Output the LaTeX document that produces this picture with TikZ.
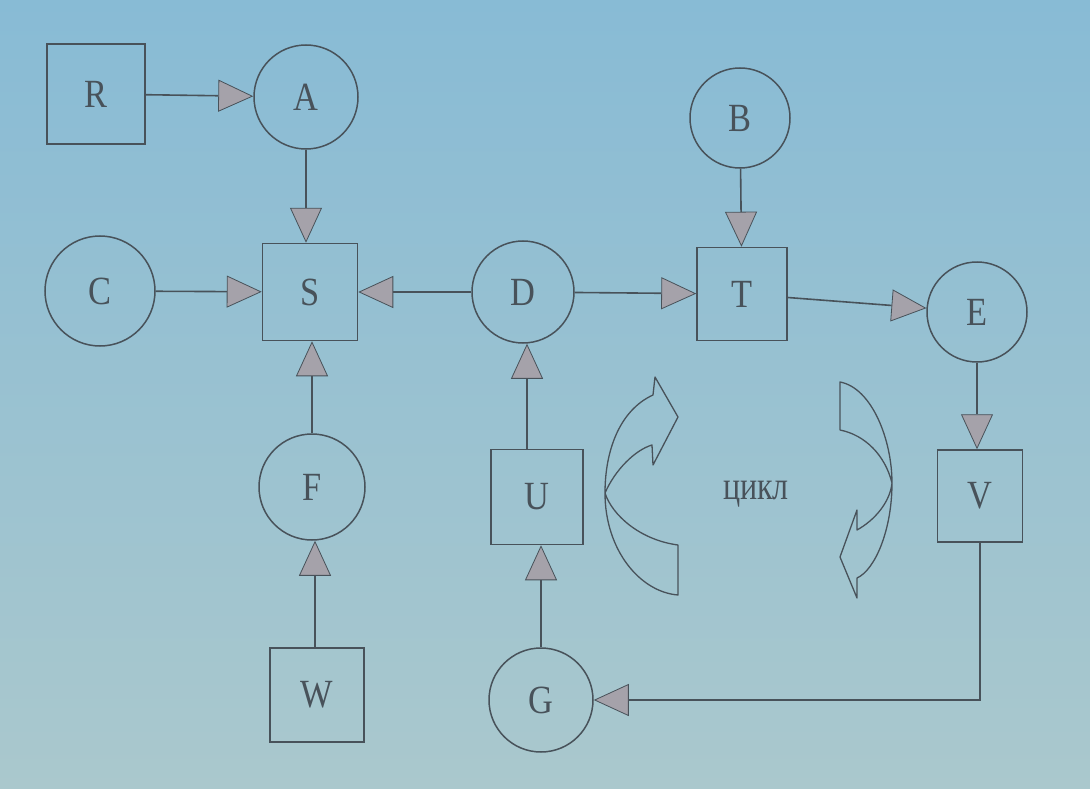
\documentclass[tikz,border=0pt]{standalone}
\usepackage{fontspec}
\setmainfont{Liberation Serif}
\newfontfamily\lbl[FakeStretch=0.86]{Liberation Serif}
\newfontfamily\cyclbl[FakeStretch=0.8]{Liberation Serif}
\usetikzlibrary{arrows.meta}
\definecolor{bgtop}{RGB}{136,187,213}
\definecolor{bgbot}{RGB}{170,200,205}
\definecolor{ink}{RGB}{72,82,90}
\definecolor{headgray}{RGB}{165,162,170}
\begin{document}
\begin{tikzpicture}[x=1pt,y=-1pt,
  lettered/.style={font=\lbl\fontsize{40}{48}\selectfont, text=ink},
  boxnode/.style={lettered, draw=ink, line width=1.5pt, inner sep=0pt},
  circnode/.style={lettered, draw=ink, circle, line width=1.5pt, inner sep=0pt},
  flow/.style={draw=ink, line width=1.6pt,
    -{Triangle[length=35pt,width=32pt,line width=0.8pt,fill=headgray]}},
  loopshape/.style={draw=ink, line width=1.3pt, line join=round}]
\shade[top color=bgtop, bottom color=bgbot] (0,0) rectangle (1090,789);
\useasboundingbox (0,0) rectangle (1090,789);

% nodes
\node[boxnode, minimum width=98pt, minimum height=100pt] (R) at (96,94) {R};
\node[circnode, minimum size=104pt] (A) at (306,97) {A};
\node[circnode, minimum size=100pt] (B) at (740,118) {B};
\node[circnode, minimum size=110pt] (C) at (100,291) {C};
\node[boxnode, minimum width=95pt, minimum height=97pt] (S) at (310,292) {S};
\node[circnode, minimum size=102pt] (D) at (523,292) {D};
\node[boxnode, minimum width=90pt, minimum height=93pt] (T) at (742,294) {T};
\node[circnode, minimum size=100pt] (E) at (977,312) {E};
\node[circnode, minimum size=106pt] (F) at (312,487) {F};
\node[boxnode, minimum width=92pt, minimum height=95pt] (U) at (537,497) {U};
\node[boxnode, minimum width=85pt, minimum height=92pt] (V) at (980,496) {V};
\node[boxnode, minimum width=94pt, minimum height=94pt] (W) at (317,695) {W};
\node[circnode, minimum size=104pt] (G) at (541,700) {G};
\node[text=ink, font=\cyclbl\fontsize{40}{48}\selectfont] (cyc) at (756,494) {цикл};
\coordinate (corner) at (980,700);

% connectors
\draw[flow] (R) -- (A);
\draw[flow] (A.south) -- (A.south |- S.north);
\draw[flow] (C) -- (S);
\draw[flow] (D) -- (S);
\draw[flow] (D) -- (T);
\draw[flow] (B) -- (T);
\draw[flow] (T) -- (E);
\draw[flow] (E.south) -- (E.south |- V.north);
\draw[flow] (F.north) -- (F.north |- S.south);
\draw[flow] ([xshift=-2pt]W.north) -- ([xshift=-2pt]W.north |- F.south);
\draw[flow] ([xshift=-10pt]U.north) -- ([xshift=-10pt]U.north |- D.south);
\draw[flow] (G.north) -- (G.north |- U.south);
\draw[flow] (V.south) -- (corner) -- (G);

% cycle arrows
\draw[loopshape] (653,395) .. controls (620,410) and (605,450) .. (605,493)
  .. controls (605,550) and (640,592) .. (678,595) -- (678,545)
  .. controls (640,540) and (612,515) .. (605,493)
  .. controls (615,470) and (635,450) .. (652,445)
  -- (653,465) -- (678,417) -- (655,377) -- cycle;
\draw[loopshape] (840,382) .. controls (872,388) and (892,440) .. (892,483)
  .. controls (892,530) and (875,570) .. (857,578)
  -- (857,598) -- (840,557) -- (857,510) -- (857,530)
  .. controls (875,520) and (890,502) .. (892,483)
  .. controls (885,455) and (865,435) .. (840,430) -- cycle;
\end{tikzpicture}
\end{document}
